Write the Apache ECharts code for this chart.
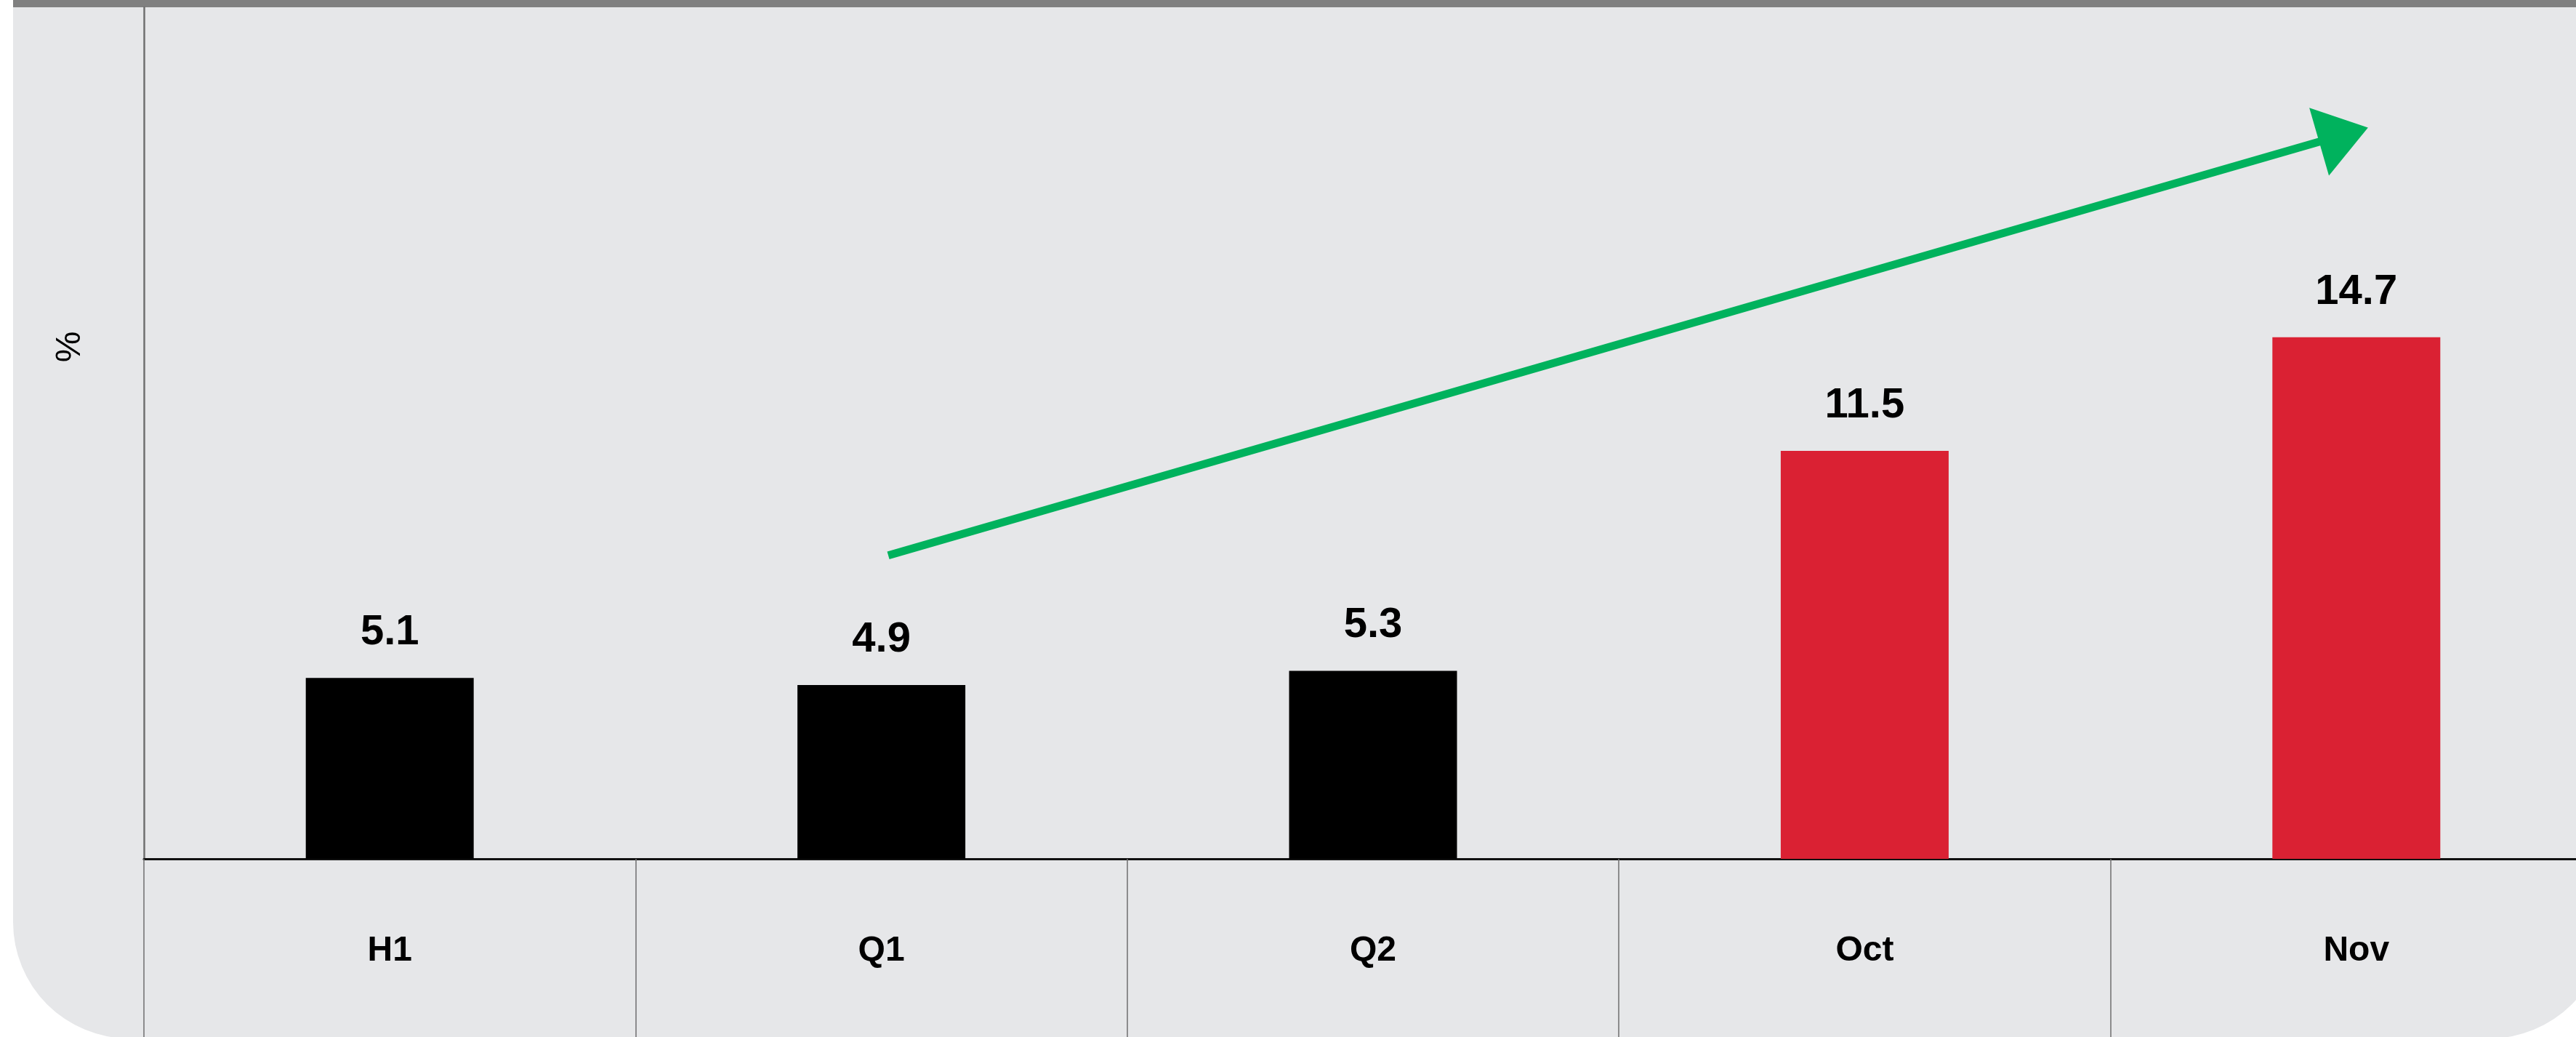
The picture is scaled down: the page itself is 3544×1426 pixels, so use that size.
<!DOCTYPE html>
<html>
<head>
<meta charset="utf-8">
<style>
  html, body { margin: 0; padding: 0; background: #ffffff; }
  #chart { width: 3544px; height: 1426px; }
</style>
<script src="https://cdn.jsdelivr.net/npm/echarts@6/dist/echarts.min.js"></script>
</head>
<body>
<div id="chart"></div>
<script>
// data
const categories = ['H1', 'Q1', 'Q2', 'Oct', 'Nov'];
const values = [5.1, 4.9, 5.3, 11.5, 14.7];
// trend arrow, in [category position, value] units
const arrowFrom = [1.014, 8.55];
const arrowTo = [3.974, 20.41];

const FONT = "'Liberation Sans', Arial, Helvetica, sans-serif";
const BG = '#e6e7e9';
const RED = '#da2133';
const GREEN = '#00b25d';
const GRID_GRAY = '#6f6f6f';

const chart = echarts.init(document.getElementById('chart'), null, { renderer: 'canvas' });

const option = {
  animation: false,
  backgroundColor: '#ffffff',
  graphic: [
    {
      type: 'rect',
      z: -10,
      shape: { x: 18, y: 0, width: 3567, height: 1428, r: [0, 0, 160, 160] },
      style: { fill: BG }
    },
    {
      type: 'rect',
      z: -9,
      shape: { x: 18, y: 0, width: 3567, height: 10 },
      style: { fill: '#808080' }
    },
    {
      type: 'text',
      z: 10,
      x: 97,
      y: 477,
      rotation: Math.PI / 2,
      style: {
        text: '%',
        fill: '#000',
        font: 'normal 48px ' + FONT,
        textAlign: 'center',
        textVerticalAlign: 'middle'
      }
    }
  ],
  grid: {
    left: 198,
    width: 3382,
    top: 10,
    bottom: 245,
    containLabel: false,
    outerBoundsMode: 'none'
  },
  xAxis: [
    {
      type: 'category',
      data: categories,
      boundaryGap: true,
      axisLine: { show: true, lineStyle: { color: '#111', width: 3 } },
      axisTick: {
        show: true,
        interval: 0,
        length: 250,
        lineStyle: { color: GRID_GRAY, width: 1.5 }
      },
      axisLabel: {
        interval: 0,
        margin: 127,
        verticalAlign: 'middle',
        color: '#000',
        fontSize: 48,
        fontWeight: 'bold',
        fontFamily: FONT
      },
      splitLine: { show: false }
    },
    {
      type: 'value',
      min: -0.5,
      max: 4.5,
      show: false
    }
  ],
  yAxis: {
    type: 'value',
    min: 0,
    max: 24,
    axisLine: { show: true, onZero: false, lineStyle: { color: GRID_GRAY, width: 2.5 } },
    axisTick: { show: false },
    axisLabel: { show: false },
    splitLine: { show: false }
  },
  series: [
    {
      type: 'bar',
      data: values,
      barWidth: 231,
      itemStyle: {
        color: function (p) { return p.dataIndex >= 3 ? RED : '#000000'; }
      },
      label: {
        show: true,
        position: 'top',
        distance: 33,
        color: '#000',
        fontSize: 58,
        fontWeight: 'bold',
        fontFamily: FONT
      },
      emphasis: { disabled: true }
    },
    {
      type: 'line',
      xAxisIndex: 1,
      yAxisIndex: 0,
      data: [],
      silent: true,
      markLine: {
        silent: true,
        animation: false,
        symbol: ['none', 'triangle'],
        symbolSize: [97, 70],
        lineStyle: { color: GREEN, width: 11, type: 'solid', opacity: 1 },
        label: { show: false },
        emphasis: { disabled: true },
        data: [[{ coord: arrowFrom }, { coord: arrowTo }]]
      }
    }
  ]
};

chart.setOption(option);
</script>
</body>
</html>
